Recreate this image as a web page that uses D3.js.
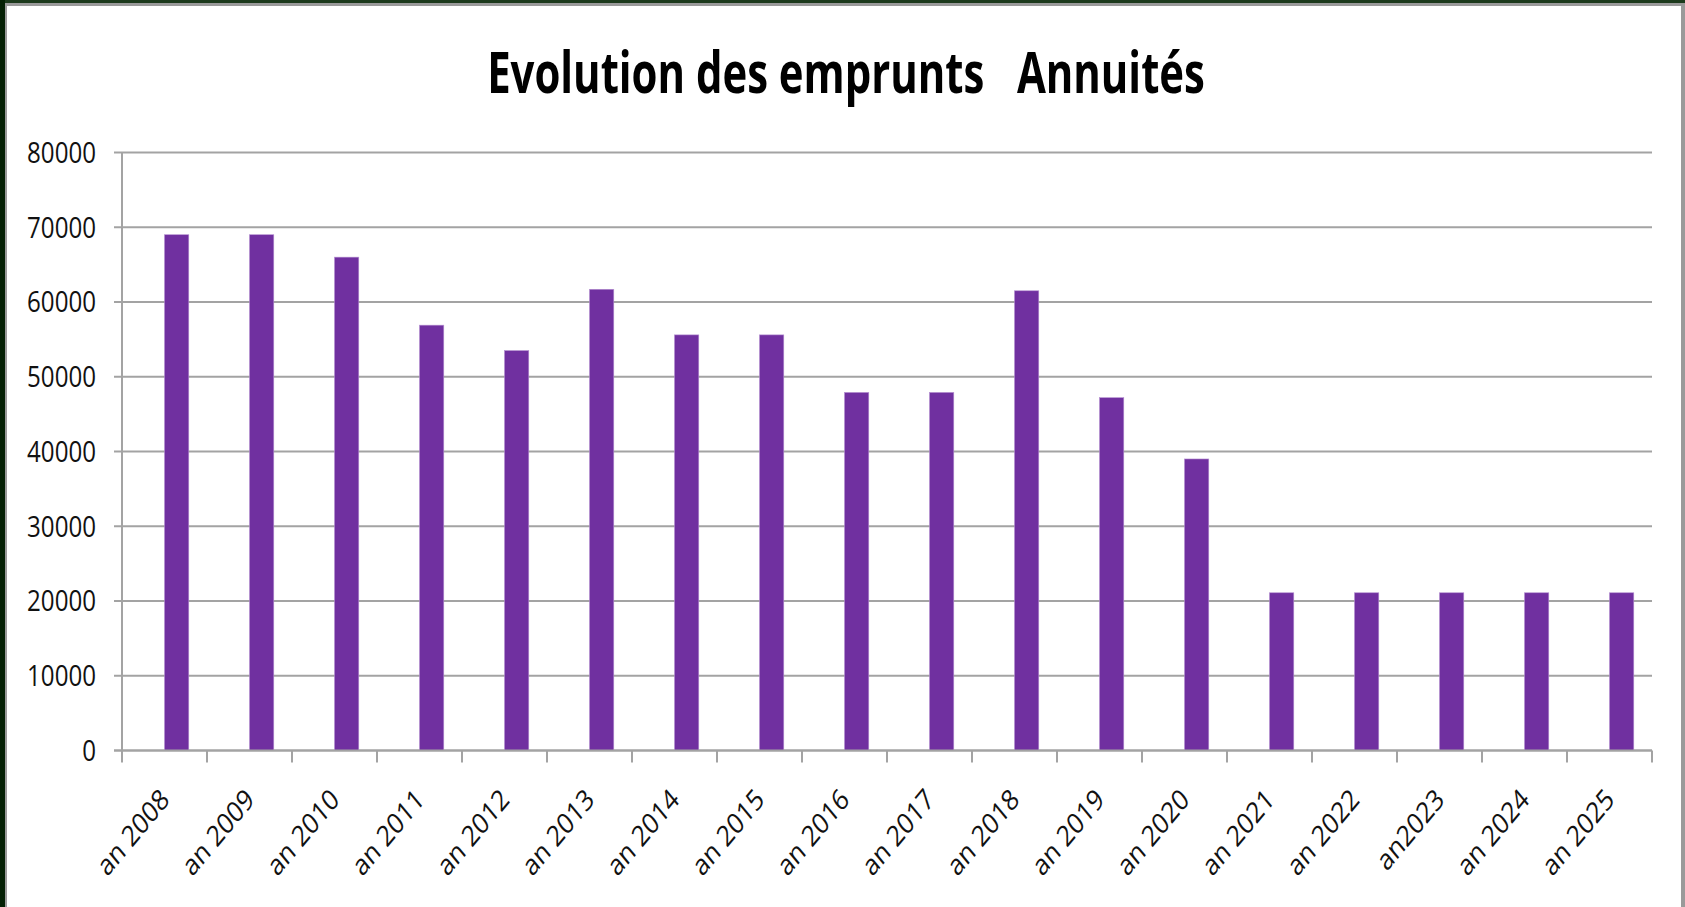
<!DOCTYPE html>
<html>
<head>
<meta charset="utf-8">
<script src="https://cdn.jsdelivr.net/npm/d3@7"></script>
<style>
  html, body { margin: 0; padding: 0; background: #ffffff; }
  svg { display: block; }
</style>
</head>
<body>
<svg id="chart" width="1685" height="907"></svg>
<script>
// Yearly loan repayments (annuités), in euros
const years = ["an 2008", "an 2009", "an 2010", "an 2011", "an 2012", "an 2013",
               "an 2014", "an 2015", "an 2016", "an 2017", "an 2018", "an 2019",
               "an 2020", "an 2021", "an 2022", "an2023", "an 2024", "an 2025"];
const annuites = [69000, 69000, 66000, 56900, 53500, 61700,
                  55600, 55600, 47900, 47900, 61500, 47200,
                  39000, 21100, 21100, 21100, 21100, 21100];
const yTicks = [0, 10000, 20000, 30000, 40000, 50000, 60000, 70000, 80000];
// two column slots per category; only the second one carries data
const slots = ["", "Annuités"];
const title = "Evolution des emprunts   Annuités";

const W = 1685, H = 907;
const plot = { left: 122, right: 1652, top: 152.5, bottom: 750.5 };
const barColor = "#7030a0";
const gridColor = "#a3a3a3";
const font = "'Open Sans', 'Noto Sans', sans-serif";

const svg = d3.select("#chart");

// frame: dark strip on the top and left edges, thin grey rule inside
svg.append("rect").attr("x", 0).attr("y", 0).attr("width", W).attr("height", H).attr("fill", "#ffffff");
svg.append("rect").attr("x", 0).attr("y", 0).attr("width", W).attr("height", 3).attr("fill", "#1c3a1c");
svg.append("rect").attr("x", 0).attr("y", 0).attr("width", 5).attr("height", H).attr("fill", "#042004");
svg.append("rect").attr("x", 5).attr("y", 3).attr("width", W - 5).attr("height", 3).attr("fill", "#9a9a9a");
svg.append("rect").attr("x", 5).attr("y", 3).attr("width", 2).attr("height", H).attr("fill", "#9a9a9a");
svg.append("rect").attr("x", 1681).attr("y", 3).attr("width", 4).attr("height", H).attr("fill", "#9a9a9a");

const x = d3.scaleBand().domain(years).range([plot.left, plot.right]).paddingInner(0).paddingOuter(0);
const xSlot = d3.scaleBand().domain(slots).range([0, x.bandwidth()]).paddingInner(0).paddingOuter(0.75);
const y = d3.scaleLinear().domain([0, 80000]).range([plot.bottom, plot.top]);

// horizontal gridlines (they also form the short ticks left of the axis)
svg.append("g").selectAll("line").data(yTicks).join("line")
  .attr("x1", plot.left - 8).attr("x2", plot.right)
  .attr("y1", d => y(d)).attr("y2", d => y(d))
  .attr("stroke", gridColor).attr("stroke-width", 2);

// columns
svg.append("g").selectAll("rect").data(years).join("rect")
  .attr("x", d => x(d) + xSlot("Annuités"))
  .attr("width", xSlot.bandwidth())
  .attr("y", (d, i) => y(annuites[i]))
  .attr("height", (d, i) => y(0) - y(annuites[i]))
  .attr("fill", barColor)
  .attr("stroke", "#b48fd0").attr("stroke-width", 0.6);

// value axis line
svg.append("line")
  .attr("x1", plot.left).attr("x2", plot.left)
  .attr("y1", y(80000)).attr("y2", y(0))
  .attr("stroke", gridColor).attr("stroke-width", 2);

// category axis line and boundary ticks
svg.append("line")
  .attr("x1", plot.left - 8).attr("x2", plot.right)
  .attr("y1", y(0)).attr("y2", y(0))
  .attr("stroke", gridColor).attr("stroke-width", 2);
const bounds = years.map(d => x(d)).concat([x.range()[1]]);
svg.append("g").selectAll("line").data(bounds).join("line")
  .attr("x1", d => d).attr("x2", d => d)
  .attr("y1", y(0)).attr("y2", y(0) + 12)
  .attr("stroke", gridColor).attr("stroke-width", 2);

// Labels: narrow text stretched vertically (tall, condensed look).
// Font size is chosen so "80000" is 69px wide; the vertical stretch brings
// digit height to about 21px.
const baseSize = 29;
const probe = svg.append("text").attr("font-family", font).attr("font-size", baseSize).text("80000");
const sx = 69 / probe.node().getComputedTextLength();
probe.remove();
const labelSize = baseSize * sx;
const stretch = 1 / sx;

// value axis labels
svg.append("g").selectAll("text").data(yTicks).join("text")
  .attr("transform", d => `translate(96,${y(d)}) scale(1,${stretch})`)
  .attr("dy", "0.36em")
  .attr("text-anchor", "end")
  .attr("font-family", font).attr("font-size", labelSize)
  .attr("fill", "#111111")
  .text(d => d);

// category labels, rotated then stretched vertically (steeper than 45°)
svg.append("g").selectAll("text").data(years).join("text")
  .attr("transform", d => `translate(${x(d) + x.bandwidth() / 2},794) scale(1,${stretch}) rotate(-45)`)
  .attr("dy", "0.36em")
  .attr("text-anchor", "end")
  .attr("font-family", font).attr("font-size", labelSize)
  .attr("fill", "#111111")
  .text(d => d);

// title
const t = svg.append("text")
  .attr("font-family", font).attr("font-weight", 700).attr("font-size", 57)
  .attr("fill", "#000000")
  .style("white-space", "pre")
  .attr("text-anchor", "middle")
  .text(title);
const tsx = 718 / t.node().getComputedTextLength();
t.attr("transform", `translate(846,93) scale(${tsx},1)`);
</script>
</body>
</html>
